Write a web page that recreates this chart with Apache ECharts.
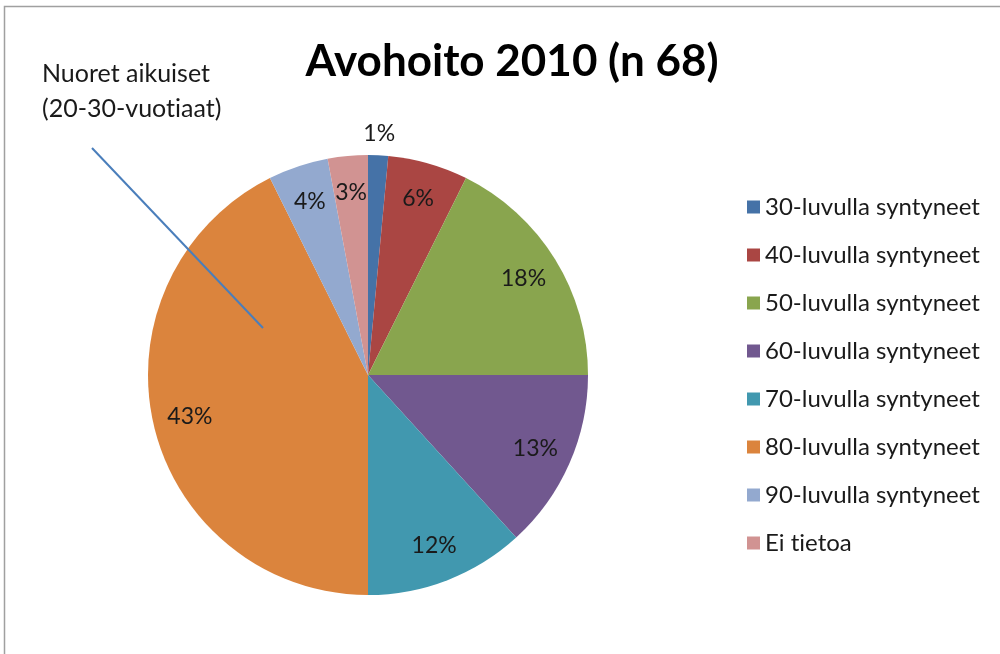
<!DOCTYPE html>
<html>
<head>
<meta charset="utf-8">
<script src="https://cdn.jsdelivr.net/npm/echarts@6/dist/echarts.min.js"></script>
<style>
html,body{margin:0;padding:0;background:#fff;}
#main{width:1000px;height:654px;}
</style>
</head>
<body>
<div id="main"></div>
<script>
var categories = ['30-luvulla syntyneet','40-luvulla syntyneet','50-luvulla syntyneet','60-luvulla syntyneet','70-luvulla syntyneet','80-luvulla syntyneet','90-luvulla syntyneet','Ei tietoa'];
var counts = [1, 4, 12, 9, 8, 29, 3, 2];
var colors = ['#4572A7','#AA4643','#89A54E','#71588F','#4198AF','#DB843D','#93A9CF','#D19392'];
var titleText = 'Avohoito 2010 (n 68)';
var noteText = 'Nuoret aikuiset\n(20-30-vuotiaat)';

var FONT = 'Lato';
// break the "ti" ligature of the font so text looks like the reference
function noLig(s){ return s.replace(/ti/g, 't\u200Ci'); }
var total = counts.reduce(function(a,b){return a+b;},0);
function pct(v){ return Math.round(v/total*100) + '%'; }

var mainData = categories.map(function(c,i){
  return {name:c, value:counts[i], itemStyle:{color:colors[i]}};
});
var labelData = categories.map(function(c,i){
  return {name:c, value:counts[i], label:{show: i !== 0}};
});
var outerLabelData = categories.map(function(c,i){
  return {name:c, value:counts[i], label:{show: i === 0}};
});
var labelCommon = {
  position:'inside', color:'#1a1a1a', fontFamily:FONT, fontSize:23,
  formatter:function(p){ return pct(p.value); }
};
var transparentItem = {color:'rgba(0,0,0,0)', borderWidth:0};

var chart = echarts.init(document.getElementById('main'), null, {renderer:'canvas'});
chart.setOption({
  animation:false,
  backgroundColor:'#fff',
  title:{
    text:titleText, left:507, top:35, textAlign:'center',
    textStyle:{fontFamily:FONT, fontWeight:'bold', fontSize:44, color:'#000'}
  },
  legend:{
    orient:'vertical', left:742, top:189,
    data:categories, icon:'rect', itemWidth:13, itemHeight:13, itemGap:22,
    selectedMode:false,
    formatter:function(n){ return noLig(n); },
    textStyle:{fontFamily:FONT, fontSize:24, color:'#1a1a1a', lineHeight:26}
  },
  graphic:[
    {type:'rect', shape:{x:4.5, y:6.5, width:1010, height:700}, style:{fill:'none', stroke:'#a0a0a0', lineWidth:1.5}, silent:true},
    {type:'text', left:42, top:56, style:{text:noLig(noteText), fontFamily:FONT, fontSize:25, lineHeight:35, fill:'#1a1a1a'}, silent:true},
    {type:'line', shape:{x1:92, y1:148, x2:263, y2:328}, style:{stroke:'#4A7EBB', lineWidth:2}, z:100, silent:true}
  ],
  series:[
    {
      type:'pie', center:[368,375], radius:[0,220], startAngle:90, clockwise:true,
      data:mainData, label:{show:false}, labelLine:{show:false}, silent:true,
      itemStyle:{borderWidth:0}
    },
    {
      type:'pie', center:[368,375], radius:[140,220], startAngle:90, clockwise:true,
      data:labelData, label:labelCommon, labelLine:{show:false}, silent:true,
      itemStyle:transparentItem, legendHoverLink:false
    },
    {
      type:'pie', center:[368,375], radius:[228,250], startAngle:90, clockwise:true,
      data:outerLabelData, label:labelCommon, labelLine:{show:false}, silent:true,
      itemStyle:transparentItem, legendHoverLink:false
    }
  ]
});
</script>
</body>
</html>
